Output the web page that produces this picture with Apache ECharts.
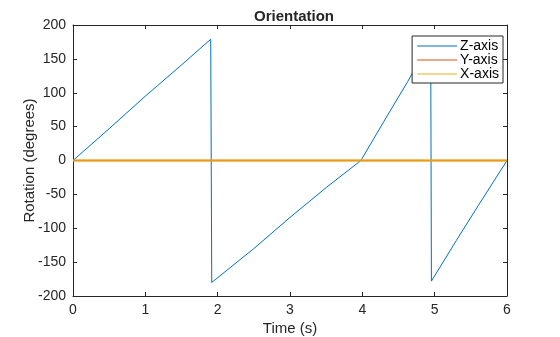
<!DOCTYPE html>
<html>
<head>
<meta charset="utf-8">
<script src="https://cdn.jsdelivr.net/npm/echarts@6/dist/echarts.min.js"></script>
<style>html,body{margin:0;padding:0;background:#fff}#c{width:560px;height:337px}</style>
</head>
<body>
<div id="c"></div>
<script>
// Data
const zTime   = [0, 0.5, 1.0, 1.5, 1.904, 1.918, 2.5, 3.0, 3.5, 3.98, 4.3, 4.63, 4.945, 4.955, 5.3, 5.6, 6.0];
const zValues = [0, 47, 95, 141, 179, -180, -130, -84, -40, 0, 58, 117, 178, -178, -118, -67, 0];
const yTime   = [0, 6];
const yValues = [0, 0];
const xTime   = [0, 6];
const xValues = [0, 0];
const xTicks  = [0, 1, 2, 3, 4, 5, 6];
const yTicks  = [-200, -150, -100, -50, 0, 50, 100, 150, 200];

const pair = (t, v) => t.map((x, i) => [x, v[i]]);
const ink = '#262626';
const font = 'Liberation Sans, Arial, sans-serif';

const chart = echarts.init(document.getElementById('c'), null, {renderer: 'canvas'});
const baseX = {
  type: 'value', min: xTicks[0], max: xTicks[xTicks.length - 1], interval: 1,
  axisLine: {show: true, onZero: false, lineStyle: {color: ink, width: 1}},
  axisTick: {show: true, inside: true, length: 4, lineStyle: {color: ink}},
  splitLine: {show: false}
};
const baseY = {
  type: 'value', min: yTicks[0], max: yTicks[yTicks.length - 1], interval: 50,
  axisLine: {show: true, onZero: false, lineStyle: {color: ink, width: 1}},
  axisTick: {show: true, inside: true, length: 4, lineStyle: {color: ink}},
  splitLine: {show: false}
};
chart.setOption({
  animation: false,
  backgroundColor: '#fff',
  title: {
    text: 'Orientation', left: 289, top: 4, textAlign: 'center',
    textStyle: {fontFamily: font, fontSize: 15, fontWeight: 'bold', color: ink}
  },
  legend: {
    data: ['Z-axis', 'Y-axis', 'X-axis'],
    orient: 'vertical', right: 57, top: 36,
    backgroundColor: '#fff', borderColor: ink, borderWidth: 1, borderRadius: 0,
    padding: [3, 4, 2, 5], itemGap: 0,
    icon: 'rect', itemWidth: 40, itemHeight: 1,
    textStyle: {fontFamily: font, fontSize: 14, color: '#000', padding: [0, 0, 0, -2]}
  },
  grid: {left: 73, right: 53, top: 25, bottom: 41, containLabel: false, outerBoundsMode: 'none'},
  xAxis: [
    Object.assign({}, baseX, {
      position: 'bottom',
      name: 'Time (s)', nameLocation: 'middle', nameGap: 25, nameMoveOverlap: false,
      nameTextStyle: {fontFamily: font, fontSize: 15, color: ink},
      axisLabel: {fontFamily: font, fontSize: 14, color: ink, margin: 7}
    }),
    Object.assign({}, baseX, {position: 'top', axisLabel: {show: false}})
  ],
  yAxis: [
    Object.assign({}, baseY, {
      position: 'left',
      name: 'Rotation (degrees)', nameLocation: 'middle', nameGap: 36, nameMoveOverlap: false,
      nameTextStyle: {fontFamily: font, fontSize: 15, color: ink},
      axisLabel: {fontFamily: font, fontSize: 14, color: ink, margin: 7}
    }),
    Object.assign({}, baseY, {position: 'right', axisLabel: {show: false}})
  ],
  series: [
    {name: 'Z-axis', type: 'line', data: pair(zTime, zValues), showSymbol: false, symbol: 'none',
     lineStyle: {color: '#0072BD', width: 1}, itemStyle: {color: '#0072BD'}, z: 3},
    {name: 'Y-axis', type: 'line', data: pair(yTime, yValues), showSymbol: false, symbol: 'none',
     lineStyle: {color: '#D95319', width: 1.5}, itemStyle: {color: '#D95319'}, z: 4},
    {name: 'X-axis', type: 'line', data: pair(xTime, xValues), showSymbol: false, symbol: 'none',
     lineStyle: {color: '#EDB120', width: 2.5, opacity: 0.75}, itemStyle: {color: '#EDB120'}, z: 5}
  ]
});
</script>
</body>
</html>
